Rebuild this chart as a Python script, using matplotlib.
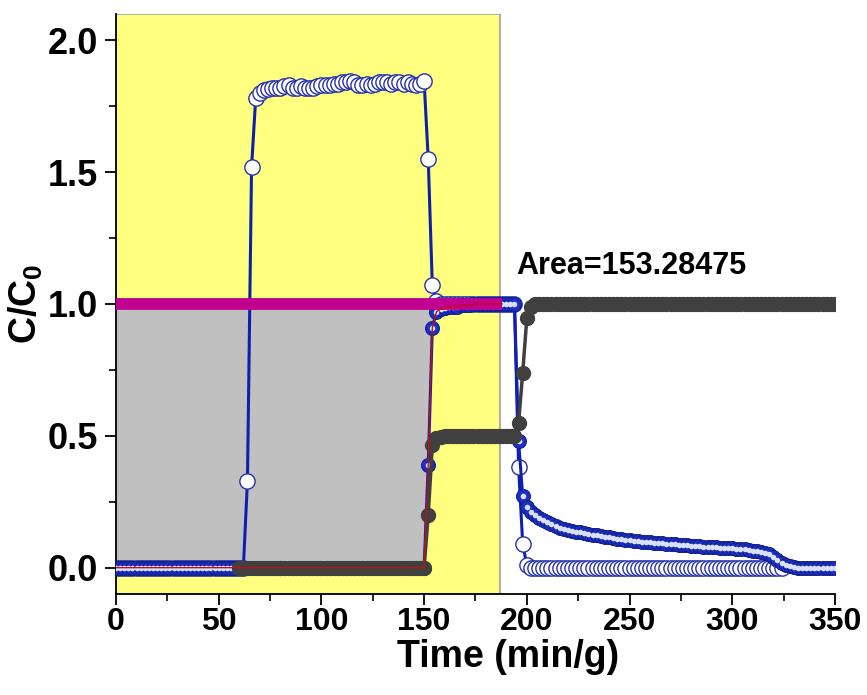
import matplotlib
matplotlib.use("Agg")
import matplotlib.pyplot as plt
import numpy as np

plt.rcParams['font.family'] = ['Liberation Sans', 'DejaVu Sans']
plt.rcParams['font.weight'] = 'bold'
plt.rcParams['mathtext.fontset'] = 'custom'
plt.rcParams['mathtext.rm'] = 'Liberation Sans:bold'
plt.rcParams['mathtext.bf'] = 'Liberation Sans:bold'
plt.rcParams['mathtext.it'] = 'Liberation Sans:bold'

# sampling grid (min/g), one reading every 2 min/g
time_all = list(range(0, 352, 2))

# white-circle series, recorded 0 .. 324 min/g
open_c = [
    0.0, 0.0, 0.0, 0.0, 0.0, 0.0, 0.0, 0.0, 0.0, 0.0,
    0.0, 0.0, 0.0, 0.0, 0.0, 0.0, 0.0, 0.0, 0.0, 0.0,
    0.0, 0.0, 0.0, 0.0, 0.0, 0.0, 0.0, 0.0, 0.0, 0.0,
    0.0, 0.0, 0.33, 1.52, 1.78, 1.80, 1.81, 1.815, 1.82, 1.82,
    1.82, 1.825, 1.83, 1.82, 1.82, 1.825, 1.82, 1.82, 1.82, 1.825,
    1.83, 1.83, 1.83, 1.835, 1.835, 1.84, 1.84, 1.845, 1.84, 1.83,
    1.83, 1.835, 1.83, 1.835, 1.84, 1.84, 1.84, 1.835, 1.84, 1.84,
    1.835, 1.84, 1.835, 1.83, 1.835, 1.845, 1.55, 1.07, 1.01, 1.0,
    1.0, 1.0, 1.0, 1.0, 1.0, 1.0, 1.0, 1.0, 1.0, 1.0,
    1.0, 1.0, 1.0, 1.0, 1.0, 1.0, 1.0, 1.0, 0.38, 0.09,
    0.01, 0.0, 0.0, 0.0, 0.0, 0.0, 0.0, 0.0, 0.0, 0.0,
    0.0, 0.0, 0.0, 0.0, 0.0, 0.0, 0.0, 0.0, 0.0, 0.0,
    0.0, 0.0, 0.0, 0.0, 0.0, 0.0, 0.0, 0.0, 0.0, 0.0,
    0.0, 0.0, 0.0, 0.0, 0.0, 0.0, 0.0, 0.0, 0.0, 0.0,
    0.0, 0.0, 0.0, 0.0, 0.0, 0.0, 0.0, 0.0, 0.0, 0.0,
    0.0, 0.0, 0.0, 0.0, 0.0, 0.0, 0.0, 0.0, 0.0, 0.0,
    0.0, 0.0, 0.0,
]

# blue-ball series, 0 .. 350 min/g
ball_c = [
    0.0, 0.0, 0.0, 0.0, 0.0, 0.0, 0.0, 0.0, 0.0, 0.0,
    0.0, 0.0, 0.0, 0.0, 0.0, 0.0, 0.0, 0.0, 0.0, 0.0,
    0.0, 0.0, 0.0, 0.0, 0.0, 0.0, 0.0, 0.0, 0.0, 0.0,
    0.0, 0.0, 0.0, 0.0, 0.0, 0.0, 0.0, 0.0, 0.0, 0.0,
    0.0, 0.0, 0.0, 0.0, 0.0, 0.0, 0.0, 0.0, 0.0, 0.0,
    0.0, 0.0, 0.0, 0.0, 0.0, 0.0, 0.0, 0.0, 0.0, 0.0,
    0.0, 0.0, 0.0, 0.0, 0.0, 0.0, 0.0, 0.0, 0.0, 0.0,
    0.0, 0.0, 0.0, 0.0, 0.0, 0.0, 0.39, 0.91, 0.97, 0.98,
    0.985, 0.99, 0.99, 0.99, 0.995, 0.995, 0.995, 1.0, 1.0, 1.0,
    1.0, 1.0, 1.0, 1.0, 1.0, 1.0, 1.0, 1.0, 0.48, 0.27,
    0.23, 0.21, 0.20, 0.19, 0.18, 0.172, 0.165, 0.158, 0.152, 0.148,
    0.144, 0.14, 0.137, 0.134, 0.131, 0.128, 0.125, 0.122, 0.12, 0.117,
    0.115, 0.112, 0.11, 0.108, 0.106, 0.104, 0.102, 0.101, 0.099, 0.098,
    0.096, 0.095, 0.093, 0.092, 0.09, 0.089, 0.088, 0.087, 0.086, 0.084,
    0.083, 0.082, 0.081, 0.08, 0.079, 0.078, 0.077, 0.076, 0.075, 0.074,
    0.073, 0.072, 0.07, 0.069, 0.067, 0.065, 0.063, 0.06, 0.056, 0.05,
    0.04, 0.029, 0.019, 0.011, 0.006, 0.003, 0.0, 0.0, 0.0, 0.0,
    0.0, 0.0, 0.0, 0.0, 0.0, 0.0,
]

# dark-grey series, recorded 60 .. 350 min/g
grey_c = [
    0.0, 0.0, 0.0, 0.0, 0.0, 0.0, 0.0, 0.0, 0.0, 0.0,
    0.0, 0.0, 0.0, 0.0, 0.0, 0.0, 0.0, 0.0, 0.0, 0.0,
    0.0, 0.0, 0.0, 0.0, 0.0, 0.0, 0.0, 0.0, 0.0, 0.0,
    0.0, 0.0, 0.0, 0.0, 0.0, 0.0, 0.0, 0.0, 0.0, 0.0,
    0.0, 0.0, 0.0, 0.0, 0.0, 0.0, 0.2, 0.465, 0.49, 0.495,
    0.5, 0.5, 0.5, 0.5, 0.5, 0.5, 0.5, 0.5, 0.5, 0.5,
    0.5, 0.5, 0.5, 0.5, 0.5, 0.5, 0.5, 0.5, 0.55, 0.74,
    0.945, 0.99, 1.0, 1.0, 1.0, 1.0, 1.0, 1.0, 1.0, 1.0,
    1.0, 1.0, 1.0, 1.0, 1.0, 1.0, 1.0, 1.0, 1.0, 1.0,
    1.0, 1.0, 1.0, 1.0, 1.0, 1.0, 1.0, 1.0, 1.0, 1.0,
    1.0, 1.0, 1.0, 1.0, 1.0, 1.0, 1.0, 1.0, 1.0, 1.0,
    1.0, 1.0, 1.0, 1.0, 1.0, 1.0, 1.0, 1.0, 1.0, 1.0,
    1.0, 1.0, 1.0, 1.0, 1.0, 1.0, 1.0, 1.0, 1.0, 1.0,
    1.0, 1.0, 1.0, 1.0, 1.0, 1.0, 1.0, 1.0, 1.0, 1.0,
    1.0, 1.0, 1.0, 1.0, 1.0, 1.0,
]

feed_end = 187          # end of the feed stage (shaded)
inlet_t = [0, 188]      # inlet level C/C0 = 1
inlet_c = [1.0, 1.0]
area_value = 153.28475

x_ticks = [0, 50, 100, 150, 200, 250, 300, 350]
y_ticks = [0.0, 0.5, 1.0, 1.5, 2.0]

t_all = np.array(time_all, dtype=float)
t_open = t_all[:len(open_c)]
t_grey = t_all[30:30 + len(grey_c)]
ball = np.array(ball_c)

fig = plt.figure(figsize=(8.67, 6.95), dpi=100)
ax = fig.add_axes([0.1338, 0.1453, 0.8292, 0.8347])

# feed stage background
ax.axvspan(0, feed_end, facecolor='#ffff80', edgecolor='#a0a0a0', lw=1.2, zorder=0)

# integrated area between inlet level and the ball curve
mask = t_all <= inlet_t[1]
ax.fill_between(t_all[mask], ball[mask], 1.0, facecolor='#c0c0c0', edgecolor='none', zorder=1)

blue = '#0f1fae'

# white-circle series
ax.plot(t_open, open_c, '-', color=blue, lw=2.2, marker='o', ms=11,
        mfc='white', mec='#2530a8', mew=1.0, zorder=2)

# ball series with highlight
ax.plot(t_all, ball, '-', color=blue, lw=2.2, marker='o', ms=10,
        mfc='#1f2fc0', mec='#10208f', mew=0.8, zorder=3)
ax.plot(t_all, ball, 'o', ms=4, mfc='#d8e0ff', mec='none', zorder=3.1)

# inlet level
ax.plot(inlet_t, inlet_c, '-', color='#c0008f', lw=8.5, solid_capstyle='butt', zorder=4)

# dark-grey series
ax.plot(t_grey, grey_c, '-', color='#404040', lw=2.5, marker='o', ms=10,
        mfc='#404040', mec='#404040', zorder=5)

# integration baseline curve
ax.plot(t_all[mask], ball[mask], '-', color='#c01010', lw=1.0, zorder=6)

ax.text(195, 1.115, f'Area={area_value:.5f}', fontsize=22, fontweight='bold',
        ha='left', va='baseline', zorder=8)

ax.set_xlim(0, 350)
ax.set_ylim(-0.1, 2.1)
ax.set_xticks(x_ticks)
ax.set_yticks(y_ticks)
ax.set_xticks([25, 75, 125, 175, 225, 275, 325], minor=True)
ax.set_yticks([0.25, 0.75, 1.25, 1.75], minor=True)
ax.set_yticklabels([f'{v:.1f}' for v in y_ticks])

for side in ('top', 'right'):
    ax.spines[side].set_visible(False)
for side in ('left', 'bottom'):
    ax.spines[side].set_linewidth(1.3)

ax.tick_params(which='major', direction='out', length=8, width=1.3, pad=5)
ax.tick_params(which='minor', direction='out', length=5, width=1.2)
ax.tick_params(axis='y', labelsize=26)
ax.tick_params(axis='x', labelsize=23, pad=1)
for lab in ax.get_xticklabels() + ax.get_yticklabels():
    lab.set_fontweight('bold')

ax.set_xlabel('Time (min/g)', fontsize=27, fontweight='bold')
ax.xaxis.set_label_coords(0.545, -0.077)
ax.set_ylabel(r'$\mathbf{C/C_0}$', fontsize=27, labelpad=2)

fig.savefig('out.png', dpi=100)
